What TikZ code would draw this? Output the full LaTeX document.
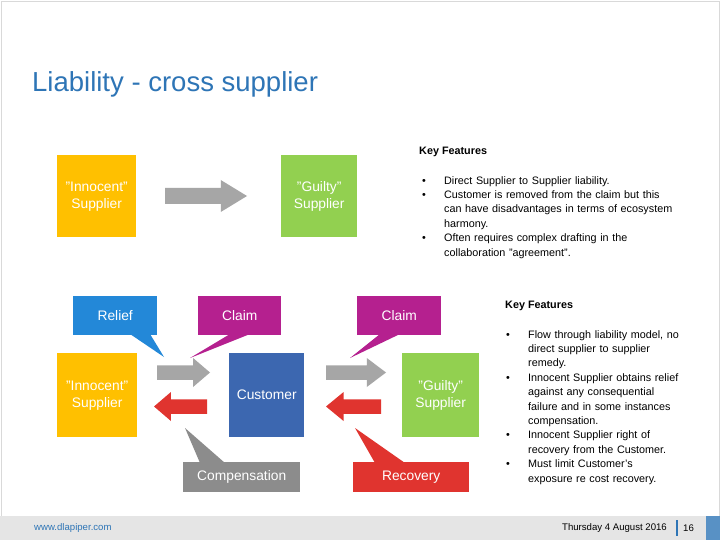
\documentclass[tikz,border=0pt]{standalone}
\usepackage{fontspec}
\setmainfont{Liberation Sans}
\definecolor{dlblue}{HTML}{2E75B6}
\definecolor{calblue}{HTML}{2388D8}
\definecolor{clmag}{HTML}{B5208F}
\definecolor{custblue}{HTML}{3C67B0}
\definecolor{supyel}{HTML}{FFC000}
\definecolor{supgrn}{HTML}{92D050}
\definecolor{arrgray}{HTML}{A6A6A6}
\definecolor{arrred}{HTML}{E0342F}
\definecolor{compgray}{HTML}{8C8C8C}
% right arrow: x1 x2 ytop ybottom
\newcommand\rarrow[5]{\fill[#5] (#1,{#3+0.25*(#4-#3)}) -- ({#2-0.32*(#2-#1)},{#3+0.25*(#4-#3)}) -- ({#2-0.32*(#2-#1)},#3) -- (#2,{(#3+#4)/2}) -- ({#2-0.32*(#2-#1)},#4) -- ({#2-0.32*(#2-#1)},{#4-0.25*(#4-#3)}) -- (#1,{#4-0.25*(#4-#3)}) -- cycle;}
\newcommand\larrow[5]{\fill[#5] (#2,{#3+0.25*(#4-#3)}) -- ({#1+0.32*(#2-#1)},{#3+0.25*(#4-#3)}) -- ({#1+0.32*(#2-#1)},#3) -- (#1,{(#3+#4)/2}) -- ({#1+0.32*(#2-#1)},#4) -- ({#1+0.32*(#2-#1)},{#4-0.25*(#4-#3)}) -- (#2,{#4-0.25*(#4-#3)}) -- cycle;}
\newcommand\bul{\makebox[22pt][l]{•}}
\newcommand\ind{\makebox[22pt][l]{}}
\begin{document}
\begin{tikzpicture}[x=1pt,y=-1pt]
\tikzset{box/.style={anchor=north west,inner sep=0pt,text=white,align=center,font=\fontsize{13.8}{17}\selectfont},
  feat/.style={anchor=north west,inner sep=0pt,align=left,font=\fontsize{10.8}{14.4}\selectfont},
  head/.style={anchor=west,inner sep=0pt,font=\bfseries\fontsize{10.8}{13}\selectfont}}
\useasboundingbox (0,0) rectangle (720,540);
\fill[white] (0,0) rectangle (720,540);
\draw[gray!30] (1,1) rectangle (719,516);
\fill[gray!20] (0,516) rectangle (720,540);
\fill[dlblue!80] (706,516) rectangle (720,540);
\node[anchor=west,inner sep=0pt,text=dlblue,font=\fontsize{27.5}{31}\selectfont] (title) at (32,84) {Liability - cross supplier};
\node[anchor=west,inner sep=0pt,text=dlblue,font=\fontsize{9.6}{12}\selectfont] (web) at (34,528) {www.dlapiper.com};
\node[anchor=east,inner sep=0pt,font=\fontsize{9.6}{12}\selectfont] (date) at (667,528) {Thursday 4 August 2016};
\draw[dlblue,line width=2.4pt] (677,520) -- (677,536);
\node[anchor=west,inner sep=0pt,font=\fontsize{9.6}{12}\selectfont] (page) at (683,528) {16};

% top row
\node[box,fill=supyel,minimum width=79,minimum height=82] (inno1) at (57,155) {};
\node at (inno1.center) [box,anchor=center] {"Innocent"\\Supplier};
\rarrow{165}{247}{180}{212}{arrgray}
\node[box,fill=supgrn,minimum width=76,minimum height=82] (guil1) at (281,155) {};
\node at (guil1.center) [box,anchor=center] {"Guilty"\\Supplier};

\node[head] (kf1) at (419,152) {Key Features};
\node[feat,text width=280] (list1) at (422,176) {%
\bul Direct Supplier to Supplier liability.\\
\bul Customer is removed from the claim but this\\
\ind can have disadvantages in terms of ecosystem\\
\ind harmony.\\
\bul Often requires complex drafting in the\\
\ind collaboration "agreement".};

% lower diagram
\node[head] (kf2) at (505,306) {Key Features};
\node[feat,text width=210] (list2) at (506,330) {%
\bul Flow through liability model, no\\
\ind direct supplier to supplier\\
\ind remedy.\\
\bul Innocent Supplier obtains relief\\
\ind against any consequential\\
\ind failure and in some instances\\
\ind compensation.\\
\bul Innocent Supplier right of\\
\ind recovery from the Customer.\\
\bul Must limit Customer's\\
\ind exposure re cost recovery.};

% callout tails
\fill[calblue] (130,334) -- (150,334) -- (164,357) -- cycle;
\fill[clmag] (230,334) -- (250,334) -- (190,358) -- cycle;
\fill[clmag] (380,334) -- (400,334) -- (350,358) -- cycle;
\fill[compgray] (185,428) -- (200,463) -- (225,463) -- cycle;
\fill[arrred] (355,428) -- (375,463) -- (405,463) -- cycle;

\node[box,fill=calblue,minimum width=84,minimum height=39] (relief) at (73,296) {};
\node at (relief.center) [box,anchor=center] {Relief};
\node[box,fill=clmag,minimum width=83,minimum height=39] (claim1) at (198,296) {};
\node at (claim1.center) [box,anchor=center] {Claim};
\node[box,fill=clmag,minimum width=84,minimum height=39] (claim2) at (357,296) {};
\node at (claim2.center) [box,anchor=center] {Claim};
\node[box,fill=compgray,minimum width=117,minimum height=30] (comp) at (183,462) {};
\node at (comp.center) [box,anchor=center] {Compensation};
\node[box,fill=arrred,minimum width=116,minimum height=30] (recov) at (353,462) {};
\node at (recov.center) [box,anchor=center] {Recovery};

\node[box,fill=supyel,minimum width=80,minimum height=84] (inno2) at (57,353) {};
\node at (inno2.center) [box,anchor=center] {"Innocent"\\Supplier};
\node[box,fill=custblue,minimum width=75,minimum height=84] (cust) at (229,353) {};
\node at (cust.center) [box,anchor=center] {Customer};
\node[box,fill=supgrn,minimum width=77,minimum height=84] (guil2) at (402,353) {};
\node at (guil2.center) [box,anchor=center] {"Guilty"\\Supplier};

\rarrow{157}{210}{358}{387}{arrgray}
\larrow{154}{207}{392}{421}{arrred}
\rarrow{326}{386}{358}{387}{arrgray}
\larrow{326}{381}{392}{421}{arrred}
\end{tikzpicture}
\end{document}
